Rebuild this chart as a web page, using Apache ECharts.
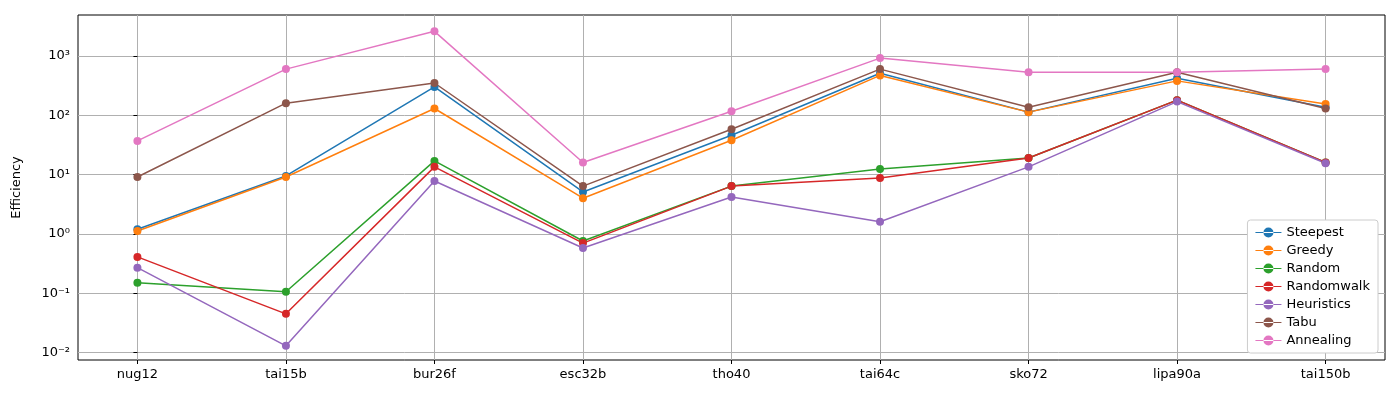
<!DOCTYPE html>
<html>
<head>
<meta charset="utf-8">
<script src="https://cdn.jsdelivr.net/npm/echarts@6/dist/echarts.min.js"></script>
<style>html,body{margin:0;padding:0;background:#fff}#chart{width:1400px;height:400px}</style>
</head>
<body>
<div id="chart"></div>
<script>
const instances = ['nug12', 'tai15b', 'bur26f', 'esc32b', 'tho40', 'tai64c', 'sko72', 'lipa90a', 'tai150b'];
const steepest = [1.2, 9.5, 300, 5.1, 46, 510, 113, 420, 137];
const greedy = [1.12, 9.1, 130, 4.0, 38, 470, 113, 380, 155];
const random = [0.15, 0.106, 17, 0.76, 6.4, 12.4, 19, 180, 16];
const randomwalk = [0.41, 0.045, 13.5, 0.7, 6.4, 8.8, 19, 180, 16];
const heuristics = [0.27, 0.013, 7.8, 0.58, 4.2, 1.6, 13.5, 170, 15.5];
const tabu = [9.1, 160, 350, 6.4, 58, 600, 137, 530, 130];
const annealing = [37, 600, 2600, 16, 117, 920, 530, 530, 600];
const yTicks = [0.01, 0.1, 1, 10, 100, 1000];
const yTickLabels = ['10⁻²', '10⁻¹', '10⁰', '10¹', '10²', '10³'];

const names = ['Steepest', 'Greedy', 'Random', 'Randomwalk', 'Heuristics', 'Tabu', 'Annealing'];
const values = [steepest, greedy, random, randomwalk, heuristics, tabu, annealing];
const colors = ['#1f77b4', '#ff7f0e', '#2ca02c', '#d62728', '#9467bd', '#8c564b', '#e377c2'];
const xIdx = instances.map((_, i) => i);

const chart = echarts.init(document.getElementById('chart'));
const font = 'DejaVu Sans';
chart.setOption({
  animation: false,
  textStyle: { fontFamily: font },
  grid: { left: 78, right: 15, top: 15, bottom: 40, show: true, borderColor: '#000', borderWidth: 1 },
  legend: {
    orient: 'vertical', right: 22, bottom: 47,
    backgroundColor: '#fff', borderColor: '#ccc', borderWidth: 1, borderRadius: 3,
    padding: [6, 8], itemGap: 5, itemWidth: 26, itemHeight: 10,
    textStyle: { fontFamily: font, fontSize: 13, color: '#000' },
    data: names.map(n => ({ name: n, icon: 'path://M0,4.5H26V5.5H0Z M8,5A5,5 0 1 0 18,5A5,5 0 1 0 8,5Z' }))
  },
  xAxis: {
    type: 'value', min: -0.4, max: 8.4,
    axisLine: { show: false },
    axisTick: { show: true, customValues: xIdx, length: 4, lineStyle: { color: '#000' } },
    axisLabel: { customValues: xIdx, formatter: v => instances[Math.round(v)], color: '#000', fontSize: 13, margin: 8 },
    splitLine: { show: true, lineStyle: { color: '#b0b0b0', width: 1 } }
  },
  yAxis: {
    type: 'log', logBase: 10, min: 0.0075, max: 4900,
    name: 'Efficiency', nameLocation: 'middle', nameGap: 55,
    nameTextStyle: { color: '#000', fontSize: 13 },
    axisLine: { show: false },
    axisTick: { show: true, customValues: yTicks, length: 4, lineStyle: { color: '#000' } },
    axisLabel: { customValues: yTicks, formatter: v => yTickLabels[yTicks.findIndex(t => Math.abs(Math.log10(t) - Math.log10(v)) < 0.01)] || '', color: '#000', fontSize: 13 },
    splitLine: { show: true, lineStyle: { color: '#b0b0b0', width: 1 } }
  },
  series: names.map((n, k) => ({
    name: n, type: 'line',
    data: values[k].map((v, i) => [i, v]),
    symbol: 'circle', symbolSize: 8,
    itemStyle: { color: colors[k] },
    lineStyle: { color: colors[k], width: 1.5 }
  }))
});
</script>
</body>
</html>
